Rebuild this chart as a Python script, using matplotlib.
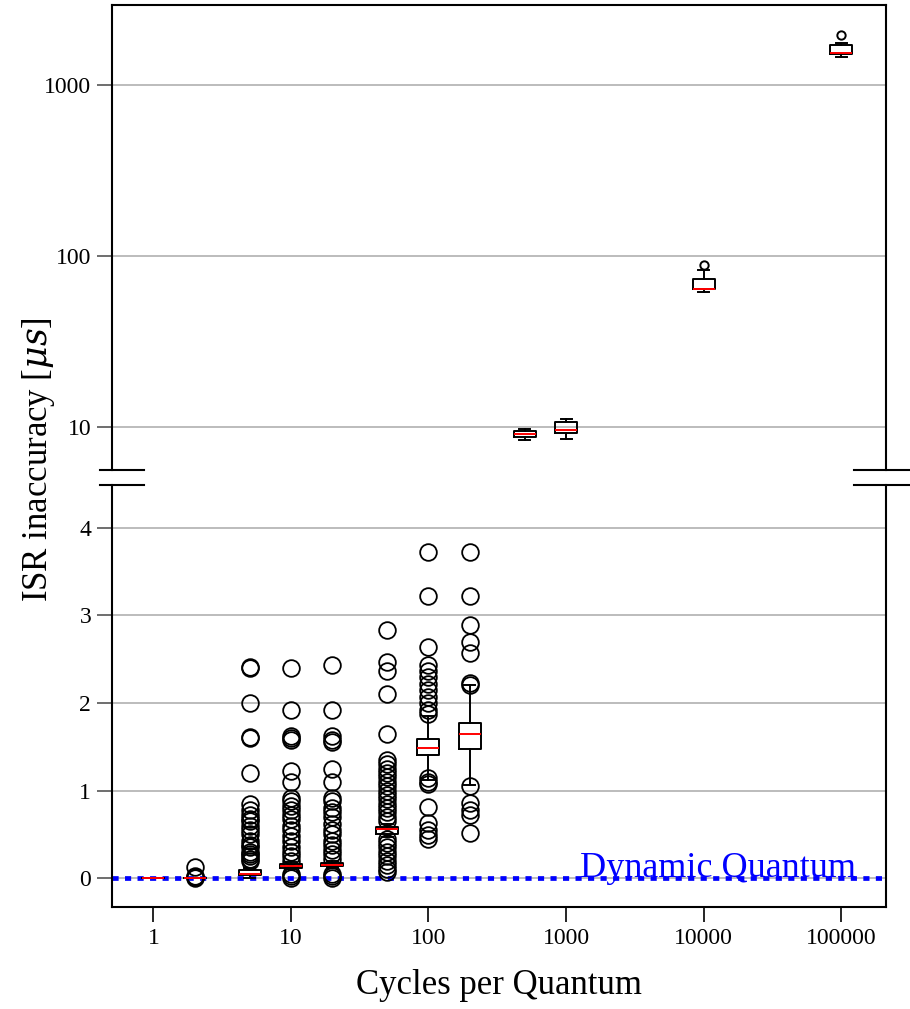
import numpy as np
import matplotlib
matplotlib.use("Agg")
import matplotlib.pyplot as plt

plt.rcParams['font.family'] = ['Liberation Serif', 'DejaVu Serif']
plt.rcParams['mathtext.fontset'] = 'dejavuserif'

# --- data ---
cycles = [1, 2, 5, 10, 20, 50, 100, 200, 500, 1000, 10000, 100000]
med    = [0, 0, 0.05, 0.14, 0.155, 0.56, 1.49, 1.646, 9.14, 9.56, 64.5, 1545]
q1     = [0, 0, 0.04, 0.12, 0.14, 0.503, 1.41, 1.48, 8.78, 9.26, 64.1, 1525]
q3     = [0, 0, 0.09, 0.16, 0.17, 0.586, 1.59, 1.77, 9.5, 10.65, 73.3, 1714]
whislo = [0, 0, 0.0, 0.10, 0.12, 0.47, 1.12, 1.06, 8.43, 8.55, 61.4, 1459]
whishi = [0, 0, 0.12, 0.18, 0.19, 0.62, 1.85, 2.2, 9.73, 11.1, 82.8, 1754]
fliers = [
    [],
    [0.005, 0.01, 0.02, 0.13],
    [2.4, 2.41, 2.0, 1.6, 1.61, 1.2, 0.85, 0.78, 0.72, 0.68, 0.65, 0.6, 0.55, 0.5,
     0.42, 0.38, 0.35, 0.3, 0.28, 0.25, 0.22, 0.2],
    [2.4, 1.92, 1.62, 1.6, 1.58, 1.22, 1.1, 0.92, 0.88, 0.82, 0.78, 0.72, 0.68,
     0.6, 0.55, 0.48, 0.42, 0.35, 0.3, 0.25, 0.2, 0.05, 0.02, 0.0],
    [2.43, 1.92, 1.62, 1.58, 1.55, 1.25, 1.1, 0.92, 0.88, 0.8, 0.75, 0.7, 0.62,
     0.55, 0.5, 0.42, 0.38, 0.32, 0.28, 0.22, 0.05, 0.02, 0.0],
    [2.83, 2.47, 2.36, 2.1, 1.65, 1.35, 1.3, 1.25, 1.2, 1.15, 1.1, 1.05, 1.0, 0.95,
     0.9, 0.85, 0.8, 0.75, 0.7, 0.65, 0.45, 0.4, 0.35, 0.3, 0.25, 0.2, 0.15, 0.1, 0.07],
    [3.72, 3.22, 2.64, 2.43, 2.36, 2.3, 2.22, 2.15, 2.07, 2.0, 1.92, 1.88,
     1.14, 1.1, 1.08, 0.81, 0.63, 0.55, 0.49, 0.45],
    [3.72, 3.22, 2.89, 2.7, 2.57, 2.23, 2.21, 1.05, 0.86, 0.78, 0.72, 0.51],
    [],
    [],
    [89],
    [1950],
]
xticks = [1, 10, 100, 1000, 10000, 100000]
top_yticks = [10, 100, 1000]
bot_yticks = [0, 1, 2, 3, 4]

positions = np.log10(cycles)
stats = [dict(med=m, q1=a, q3=b, whislo=lo, whishi=hi, fliers=f)
         for m, a, b, lo, hi, f in zip(med, q1, q3, whislo, whishi, fliers)]

fig = plt.figure(figsize=(9.1, 10.09), dpi=100)
L, R = 112 / 910, 886 / 910
ax_top = fig.add_axes([L, 1 - 470 / 1009, R - L, (470 - 5) / 1009])
ax_bot = fig.add_axes([L, 1 - 907 / 1009, R - L, (907 - 485) / 1009])

boxprops = dict(color='black', linewidth=1.4)
lineprops = dict(color='black', linewidth=1.4)
medprops = dict(color='red', linewidth=1.4)

ax_bot.bxp(stats[:8], positions=positions[:8], widths=0.16, showfliers=True,
           boxprops=boxprops, whiskerprops=lineprops, capprops=lineprops,
           medianprops=medprops,
           flierprops=dict(marker='o', markersize=12, markerfacecolor='none',
                           markeredgecolor='black', markeredgewidth=1.3),
           manage_ticks=False, zorder=3)
ax_top.bxp(stats[8:], positions=positions[8:], widths=0.16, showfliers=True,
           boxprops=boxprops, whiskerprops=lineprops, capprops=lineprops,
           medianprops=medprops,
           flierprops=dict(marker='o', markersize=6, markerfacecolor='none',
                           markeredgecolor='black', markeredgewidth=1.4),
           manage_ticks=False, zorder=3)

xlim = (np.log10(0.5), np.log10(212000))
for ax in (ax_top, ax_bot):
    ax.set_xlim(*xlim)
    ax.yaxis.grid(True, color='#b0b0b0', linewidth=1.2, zorder=0)
    ax.set_axisbelow(True)
    for s in ax.spines.values():
        s.set_linewidth(1.5)
    ax.tick_params(axis='y', direction='out', length=11, width=1.2, color='#555555',
                   labelsize=17, pad=4)

ax_top.set_yscale('log')
ax_top.set_ylim(5.6, 2940)
ax_top.set_yticks(top_yticks)
ax_top.set_yticklabels([str(t) for t in top_yticks])
ax_top.yaxis.set_minor_locator(matplotlib.ticker.NullLocator())
ax_top.set_xticks([])
ax_top.spines['bottom'].set_visible(False)

ax_bot.set_ylim(-0.33, 4.49)
ax_bot.set_yticks(bot_yticks)
ax_bot.set_xticks(np.log10(xticks))
ax_bot.set_xticklabels([str(t) for t in xticks])
ax_bot.tick_params(axis='x', direction='out', length=11, width=1.2, labelsize=17, pad=4)
ax_bot.spines['top'].set_visible(False)

# dynamic quantum reference line
ax_bot.axhline(0, color='blue', linewidth=3.4, linestyle=(0, (1.3, 1.35)),
               dash_capstyle='butt', zorder=2)
ax_bot.text(0.961, 0.053, 'Dynamic Quantum', transform=ax_bot.transAxes,
            ha='right', va='bottom', color='blue', fontsize=26)

# break marks
kw = dict(color='black', linewidth=1.5, clip_on=False)
for ax, y in ((ax_top, 0), (ax_bot, 1)):
    ax.plot([-0.0155, 0.041], [y, y], transform=ax.transAxes, **kw)
    ax.plot([0.959, 1.04], [y, y], transform=ax.transAxes, **kw)

fig.text(0.042, 1 - 460 / 1009, r'ISR inaccuracy [$\mu s$]', rotation=90,
         ha='center', va='center', fontsize=25)
fig.text((L + R) / 2, 1 - 985 / 1009, 'Cycles per Quantum',
         ha='center', va='center', fontsize=25)

fig.savefig('out.png', dpi=100)
